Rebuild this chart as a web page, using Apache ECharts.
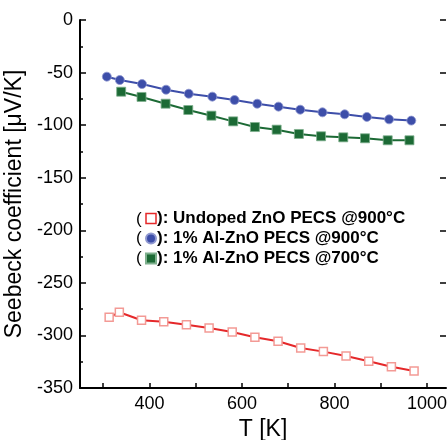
<!DOCTYPE html>
<html lang="en">
<head>
    <meta charset="UTF-8" />
    <title>Seebeck coefficient</title>
    <script src="https://cdn.jsdelivr.net/npm/echarts@6/dist/echarts.min.js"></script>
    <style>
        html, body { margin: 0; padding: 0; background: #fff; }
    </style>
</head>
<body>
    <div id="chart" style="width: 447px; height: 440px"></div>
    <script>
        // series names
        var names = [
            "Undoped ZnO PECS @900°C",
            "1% Al-ZnO PECS @900°C",
            "1% Al-ZnO PECS @700°C",
        ];

        // undoped ZnO, 900°C
        var tUndoped = [313, 335, 383, 431, 480, 529, 579, 628, 678, 727, 776, 825, 874, 923, 972];
        var sUndoped = [-282.8, -278.0, -285.6, -286.9, -289.8, -292.9, -296.7, -301.8, -305.6, -311.9, -315.4, -319.5, -324.6, -329.7, -333.8];

        // 1% Al, 900°C
        var tAl900 = [308, 336, 384, 436, 485, 536, 584, 633, 679, 726, 774, 822, 870, 918, 966];
        var sAl900 = [-53.9, -57.1, -60.9, -66.3, -70.1, -72.9, -76.1, -79.6, -82.4, -85.3, -87.8, -89.7, -92.2, -94.5, -95.7];

        // 1% Al, 700°C
        var tAl700 = [339, 383, 435, 484, 534, 581, 628, 675, 723, 771, 819, 866, 915, 962];
        var sAl700 = [-68.2, -73.2, -79.6, -85.6, -91.0, -96.4, -101.8, -104.3, -108.4, -110.6, -111.6, -112.5, -114.4, -114.4];

        // axis ticks
        var xTicks = [300, 400, 500, 600, 700, 800, 900, 1000];
        var xLabels = [400, 600, 800, 1000];

        function pairs(xs, ys) {
            return xs.map(function (x, i) { return [x, ys[i]]; });
        }

        var red = "#e5282a", blue = "#3d4ea9", green = "#1c6a35";
        var font = "Liberation Sans";

        var chart = echarts.init(document.getElementById("chart"));

        var option = {
            backgroundColor: "#fff",
            animation: false,
            grid: { left: 80, top: 20, right: 1, bottom: 52, outerBoundsMode: "none" },
            xAxis: {
                type: "value",
                min: 250,
                max: 1041,
                name: "T [K]",
                nameLocation: "middle",
                nameGap: 30,
                nameTextStyle: { fontFamily: font, fontSize: 23, color: "#000" },
                axisLine: { onZero: false, lineStyle: { color: "#000", width: 2 } },
                axisTick: { inside: true, length: 5, customValues: xTicks, lineStyle: { color: "#000", width: 1.5 } },
                axisLabel: {
                    customValues: xLabels,
                    formatter: function (v) { return String(v); },
                    fontFamily: font, fontSize: 18, color: "#000", margin: 7,
                },
                splitLine: { show: false },
            },
            yAxis: [
                {
                    type: "value",
                    min: -350,
                    max: 0,
                    interval: 50,
                    name: "Seebeck coefficient [μV/K]",
                    nameLocation: "middle",
                    nameGap: 47,
                    nameTextStyle: { fontFamily: font, fontSize: 23, color: "#000" },
                    axisLine: { onZero: false, lineStyle: { color: "#000", width: 2 } },
                    axisTick: { inside: true, length: 6, lineStyle: { color: "#000", width: 1.5 } },
                    minorTick: { show: true, splitNumber: 2, length: 3, lineStyle: { color: "#000", width: 1.5 } },
                    axisLabel: { fontFamily: font, fontSize: 18, color: "#000", margin: 7 },
                    splitLine: { show: false },
                },
                {
                    type: "value",
                    position: "right",
                    min: -350,
                    max: 0,
                    interval: 50,
                    axisLine: { show: false },
                    axisTick: { inside: true, length: 6, lineStyle: { color: "#000", width: 1.5 } },
                    axisLabel: { show: false },
                    splitLine: { show: false },
                },
            ],
            legend: {
                orient: "vertical",
                left: 145,
                top: 210,
                padding: 0,
                itemWidth: 10,
                itemHeight: 10,
                itemGap: 3,
                formatter: function (n) { return "): " + n; },
                textStyle: { fontFamily: font, fontSize: 17, fontWeight: "bold", color: "#000", padding: [0, 0, 0, -4] },
                data: [
                    { name: names[0], icon: "rect", itemStyle: { color: "#fff", borderColor: red, borderWidth: 1.5 } },
                    { name: names[1], icon: "circle", itemStyle: { color: blue } },
                    { name: names[2], icon: "rect", itemStyle: { color: green } },
                ],
            },
            graphic: [0, 1, 2].map(function (i) {
                return {
                    type: "text",
                    x: 136,
                    y: 219 + i * 19.5,
                    style: { text: "(", font: "17px " + font, fill: "#000", verticalAlign: "middle" },
                };
            }),
            series: [
                {
                    name: names[0],
                    type: "line",
                    data: pairs(tUndoped, sUndoped),
                    symbol: "rect",
                    symbolSize: 8,
                    lineStyle: { color: red, width: 2 },
                    itemStyle: { color: "#fff", borderColor: "#f39a95", borderWidth: 1.5 },
                },
                {
                    name: names[1],
                    type: "line",
                    data: pairs(tAl900, sAl900),
                    symbol: "circle",
                    symbolSize: 9,
                    lineStyle: { color: blue, width: 2 },
                    itemStyle: { color: blue, borderColor: "#8f98d0", borderWidth: 0.8 },
                },
                {
                    name: names[2],
                    type: "line",
                    data: pairs(tAl700, sAl700),
                    symbol: "rect",
                    symbolSize: 9,
                    lineStyle: { color: green, width: 2 },
                    itemStyle: { color: green, borderColor: "#7fb08e", borderWidth: 0.8 },
                },
            ],
        };
        chart.setOption(option);
    </script>
</body>
</html>
